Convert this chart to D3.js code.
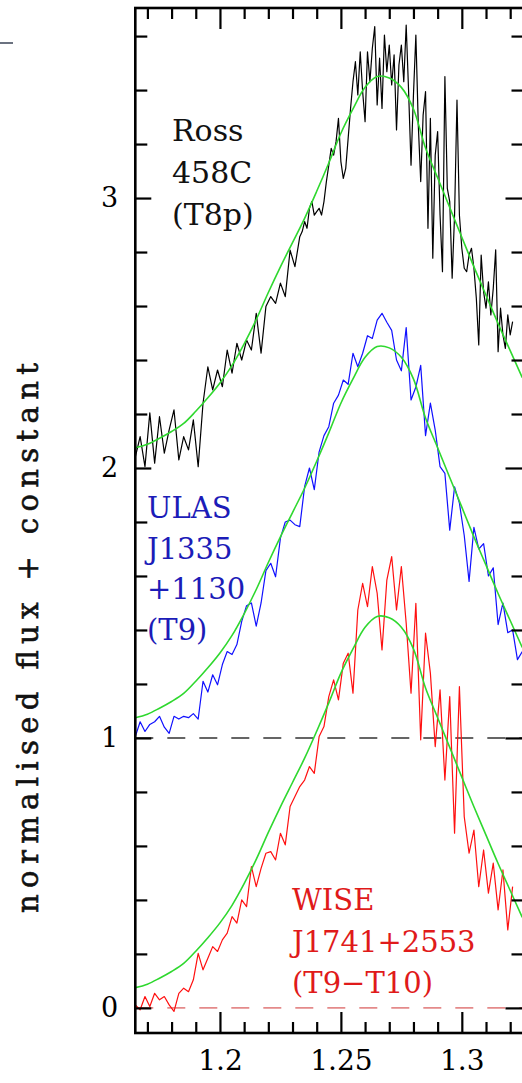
<!DOCTYPE html>
<html>
<head>
<meta charset="utf-8">
<script src="https://cdn.jsdelivr.net/npm/d3@7/dist/d3.min.js"></script>
<style>
  body { margin: 0; background: #fff; }
  svg { display: block; }
</style>
</head>
<body>
<svg id="chart"></svg>
<script>
// wavelength grid of the ULAS and WISE spectra (micron)
const obsWave = [1.165,1.167,1.169,1.171,1.173,1.175,1.177,1.179,1.181,1.183,
  1.185,1.187,1.189,1.191,1.193,1.195,1.197,1.199,1.201,1.203,
  1.205,1.207,1.209,1.211,1.213,1.215,1.217,1.219,1.221,1.223,
  1.225,1.227,1.229,1.231,1.233,1.235,1.237,1.239,1.241,1.243,
  1.245,1.247,1.249,1.251,1.253,1.255,1.257,1.259,1.261,1.263,
  1.265,1.267,1.269,1.271,1.273,1.275,1.277,1.279,1.281,1.283,
  1.285,1.287,1.289,1.291,1.293,1.295,1.297,1.299,1.301,1.303,
  1.305,1.307,1.309,1.311,1.313,1.315,1.317,1.319,1.321,1.323,1.325];

// Ross 458C is sampled finer from 1.234 on (micron)
const rossWave = [1.165,1.167,1.169,1.171,1.173,1.175,1.177,1.179,1.181,1.183,
  1.185,1.187,1.189,1.191,1.193,1.195,1.197,1.199,1.201,1.203,
  1.205,1.207,1.209,1.211,1.213,1.215,1.217,1.219,1.221,1.223,
  1.225,1.227,1.229,1.231,1.233,
  1.234,1.235,1.236,1.237,1.238,1.239,1.240,1.241,1.242,1.243,
  1.244,1.245,1.246,1.247,1.248,1.249,1.250,1.251,1.252,1.253,
  1.254,1.255,1.256,1.257,1.258,1.259,1.260,1.261,1.262,1.263,
  1.264,1.265,1.266,1.267,1.268,1.269,1.270,1.271,1.272,1.273,
  1.274,1.275,1.276,1.277,1.278,1.279,1.280,1.281,1.282,1.283,
  1.284,1.285,1.286,1.287,1.288,1.289,1.290,1.291,1.292,1.293,
  1.294,1.295,1.296,1.297,1.298,1.299,1.300,1.301,1.302,1.303,
  1.304,1.305,1.306,1.307,1.308,1.309,1.310,1.311,1.312,1.313,
  1.314,1.315,1.316,1.317,1.318,1.319,1.320,1.321];

// Ross 458C, already shifted by +2
const rossFlux = [2.04,2.116,2.005,2.204,2.018,2.19,2.055,2.141,2.215,2.03,
  2.116,2.067,2.178,2.005,2.24,2.375,2.289,2.363,2.301,2.437,
  2.351,2.462,2.4,2.474,2.437,2.573,2.425,2.598,2.635,2.61,
  2.685,2.635,2.807,2.746,2.857,
  2.876,2.913,2.888,2.962,2.987,2.937,2.95,2.962,2.937,2.987,
  3.061,3.122,3.184,3.159,3.209,3.295,3.135,3.073,3.11,3.221,
  3.332,3.431,3.505,3.382,3.542,3.394,3.283,3.542,3.431,3.555,
  3.635,3.345,3.518,3.332,3.604,3.468,3.567,3.419,3.53,3.252,
  3.493,3.567,3.431,3.641,3.394,3.122,3.382,3.604,3.271,3.061,
  3.307,3.394,2.888,3.295,2.777,3.159,3.246,2.937,2.727,3.45,
  3.036,2.987,2.703,2.937,3.363,2.937,2.814,2.74,2.727,2.789,
  2.814,2.74,2.629,2.456,2.789,2.653,2.592,2.69,2.567,2.666,
  2.808,2.431,2.592,2.493,2.443,2.567,2.493,2.542];

// ULAS J1335+1130, shifted by +1
const ulasFlux = [1.005,1.06,1.024,1.05,1.06,1.08,1.04,1.017,1.08,1.07,
  1.08,1.075,1.09,1.07,1.21,1.17,1.234,1.197,1.272,1.32,
  1.309,1.346,1.432,1.49,1.5,1.414,1.5,1.62,1.647,1.597,
  1.74,1.8,1.807,1.79,1.783,1.931,2.0,1.92,2.06,2.12,
  2.153,2.24,2.27,2.326,2.31,2.425,2.375,2.425,2.49,2.48,
  2.548,2.573,2.54,2.51,2.4,2.36,2.52,2.252,2.3,2.38,
  2.12,2.24,2.14,2.005,1.98,1.77,1.93,1.87,1.75,1.58,
  1.78,1.7,1.72,1.6,1.63,1.42,1.5,1.39,1.4,1.29,1.32];

// WISE J1741+2553, no shift
const wiseFlux = [0.011,-0.007,0.042,0.005,0.054,0.03,0.042,0.011,-0.013,0.054,
  0.073,0.06,0.104,0.202,0.141,0.184,0.227,0.209,0.252,0.277,
  0.338,0.314,0.4,0.375,0.523,0.449,0.517,0.573,0.579,0.548,
  0.647,0.604,0.746,0.783,0.82,0.844,0.894,0.869,1.005,1.042,
  1.153,1.215,1.141,1.277,1.314,1.166,1.474,1.573,1.486,1.635,
  1.536,1.326,1.585,1.672,1.474,1.635,1.425,1.166,1.499,0.993,
  1.388,1.24,0.968,1.178,0.844,1.153,0.647,1.19,0.708,0.573,
  0.659,0.449,0.585,0.425,0.536,0.363,0.511,0.289,0.449];

// model spectrum (green), drawn once per object at its offset
const modelWave = [1.165,1.170,1.175,1.180,1.185,1.190,1.195,1.200,1.205,1.210,1.215,
  1.220,1.225,1.230,1.235,1.240,1.245,1.250,1.255,1.260,1.265,1.270,
  1.275,1.280,1.285,1.290,1.295,1.300,1.305,1.310,1.315,1.320,1.325];
const modelFlux = [0.075,0.088,0.11,0.135,0.165,0.21,0.26,0.315,0.38,0.46,0.55,
  0.65,0.745,0.835,0.925,1.025,1.13,1.24,1.33,1.41,1.45,1.445,
  1.41,1.33,1.185,1.075,0.965,0.855,0.745,0.64,0.535,0.435,0.335];
const offsets = [2, 1, 0];

// zero levels drawn dashed
const zeroLevels = [1, 0];

// text
const labelRoss = ["Ross", "458C", "(T8p)"];
const labelUlas = ["ULAS", "J1335", "+1130", "(T9)"];
const labelWise = ["WISE", "J1741+2553", "(T9\u2212T10)"];
const yTitle = "normalised flux + constant";

// ticks
const xMajorTicks = [1.2, 1.25, 1.3];
const xTickLabels = ["1.2", "1.25", "1.3"];
const xMinorTicks = [1.17,1.18,1.19,1.21,1.22,1.23,1.24,1.26,1.27,1.28,1.29,1.31,1.32];
const yMajorTicks = [0, 1, 2, 3];
const yTickLabels = ["0", "1", "2", "3"];
const yMinorTicks = [0.2,0.4,0.6,0.8,1.2,1.4,1.6,1.8,2.2,2.4,2.6,2.8,3.2,3.4,3.6];

const svgWidth = 522, svgHeight = 1083;
const frame = {left: 135.3, right: 523.5, top: 8, bottom: 1033};
const serif = "'DejaVu Serif', serif";

const chart = d3.select("#chart")
    .attr("width", svgWidth)
    .attr("height", svgHeight);

var xScale = d3.scaleLinear().domain([1.165, 1.3255]).range([frame.left, frame.right]);
var yScale = d3.scaleLinear().domain([-0.093, 3.704]).range([frame.bottom, frame.top]);

chart.append("clipPath").attr("id", "plotclip")
    .append("rect")
    .attr("x", frame.left).attr("y", frame.top)
    .attr("width", frame.right - frame.left).attr("height", frame.bottom - frame.top);

var plot = chart.append("g").attr("clip-path", "url(#plotclip)");

// dashed zero lines
plot.selectAll(".zero")
    .data(zeroLevels)
    .enter()
    .append("line")
    .attr("class", "zero")
    .attr("x1", frame.left)
    .attr("x2", frame.right)
    .attr("y1", d => yScale(d))
    .attr("y2", d => yScale(d))
    .attr("stroke", (d, i) => i == 0 ? "#333" : "#e48a8a")
    .attr("stroke-width", 1.6)
    .attr("stroke-dasharray", "18,14");

var specLine = d3.line()
    .x(d => xScale(d.w))
    .y(d => yScale(d.f))
    .curve(d3.curveLinear);

var modelLine = d3.line()
    .x(d => xScale(d.w))
    .y(d => yScale(d.f))
    .curve(d3.curveCatmullRom);

function pairs(wave, flux) {
    return flux.map((f, i) => ({w: wave[i], f: f}));
}

const spectra = [
    {wave: rossWave, flux: rossFlux, color: "#000000"},
    {wave: obsWave, flux: ulasFlux, color: "#1010ff"},
    {wave: obsWave, flux: wiseFlux, color: "#ff1010"}
];

spectra.forEach(function(s) {
    plot.append("path")
        .datum(pairs(s.wave, s.flux))
        .attr("d", specLine)
        .attr("fill", "none")
        .attr("stroke", s.color)
        .attr("stroke-width", 1.2)
        .attr("stroke-linejoin", "round");
});

offsets.forEach(function(off) {
    plot.append("path")
        .datum(modelFlux.map((f, i) => ({w: modelWave[i], f: f + off})))
        .attr("d", modelLine)
        .attr("fill", "none")
        .attr("stroke", "#2fd82f")
        .attr("stroke-width", 1.6);
});

// axes, ticks pointing inward on all four sides
function styleAxis(g) {
    g.select(".domain").remove();
    g.selectAll("line").attr("stroke", "#000").attr("stroke-width", 2.2);
    g.selectAll("text").attr("font-family", serif).attr("fill", "#000");
}

chart.append("g")
    .attr("transform", "translate(0," + frame.bottom + ")")
    .call(d3.axisBottom(xScale).tickValues(xMinorTicks).tickSize(-11).tickFormat(""))
    .call(styleAxis);
chart.append("g")
    .attr("transform", "translate(0," + frame.bottom + ")")
    .call(d3.axisBottom(xScale).tickValues(xMajorTicks).tickSize(-21).tickPadding(17)
        .tickFormat((d, i) => xTickLabels[i]))
    .call(styleAxis)
    .selectAll("text").attr("font-size", 28);

chart.append("g")
    .attr("transform", "translate(0," + frame.top + ")")
    .call(d3.axisTop(xScale).tickValues(xMinorTicks).tickSize(-11).tickFormat(""))
    .call(styleAxis);
chart.append("g")
    .attr("transform", "translate(0," + frame.top + ")")
    .call(d3.axisTop(xScale).tickValues(xMajorTicks).tickSize(-21).tickFormat(""))
    .call(styleAxis);

chart.append("g")
    .attr("transform", "translate(" + frame.left + ",0)")
    .call(d3.axisLeft(yScale).tickValues(yMinorTicks).tickSize(-12).tickFormat(""))
    .call(styleAxis);
chart.append("g")
    .attr("transform", "translate(" + frame.left + ",0)")
    .call(d3.axisLeft(yScale).tickValues(yMajorTicks).tickSize(-16).tickPadding(17)
        .tickFormat((d, i) => yTickLabels[i]))
    .call(styleAxis)
    .selectAll("text").attr("font-size", 27);

chart.append("g")
    .attr("transform", "translate(" + frame.right + ",0)")
    .call(d3.axisRight(yScale).tickValues(yMinorTicks).tickSize(-12).tickFormat(""))
    .call(styleAxis);
chart.append("g")
    .attr("transform", "translate(" + frame.right + ",0)")
    .call(d3.axisRight(yScale).tickValues(yMajorTicks).tickSize(-18).tickFormat(""))
    .call(styleAxis);

// frame
chart.append("rect")
    .attr("x", frame.left).attr("y", frame.top)
    .attr("width", frame.right - frame.left).attr("height", frame.bottom - frame.top)
    .attr("fill", "none")
    .attr("stroke", "#000")
    .attr("stroke-width", 2.6);

// y title, a little heavier like the typewriter face of the original
chart.append("text")
    .attr("transform", "translate(38,638) rotate(-90)")
    .attr("text-anchor", "middle")
    .attr("font-family", serif)
    .attr("font-size", 29)
    .attr("textLength", 550)
    .attr("lengthAdjust", "spacing")
    .attr("fill", "#111")
    .attr("stroke", "#111")
    .attr("stroke-width", 0.6)
    .text(yTitle);

// object names
function block(lines, x, y0, step, size, color) {
    chart.append("g").selectAll("text")
        .data(lines)
        .enter()
        .append("text")
        .attr("x", x)
        .attr("y", (d, i) => y0 + i * step)
        .attr("font-family", serif)
        .attr("font-size", size)
        .attr("fill", color)
        .text(d => d);
}
block(labelRoss, 172, 141, 42, 30, "#111");
block(labelUlas, 147, 518, 40.5, 29, "#1c1cb8");
block(labelWise, 292, 910, 41.5, 29, "#e01a1a");

// small grey mark at the top-left corner
chart.append("line")
    .attr("x1", 0).attr("x2", 13)
    .attr("y1", 43).attr("y2", 43)
    .attr("stroke", "#6b7280")
    .attr("stroke-width", 2);
</script>
</body>
</html>
